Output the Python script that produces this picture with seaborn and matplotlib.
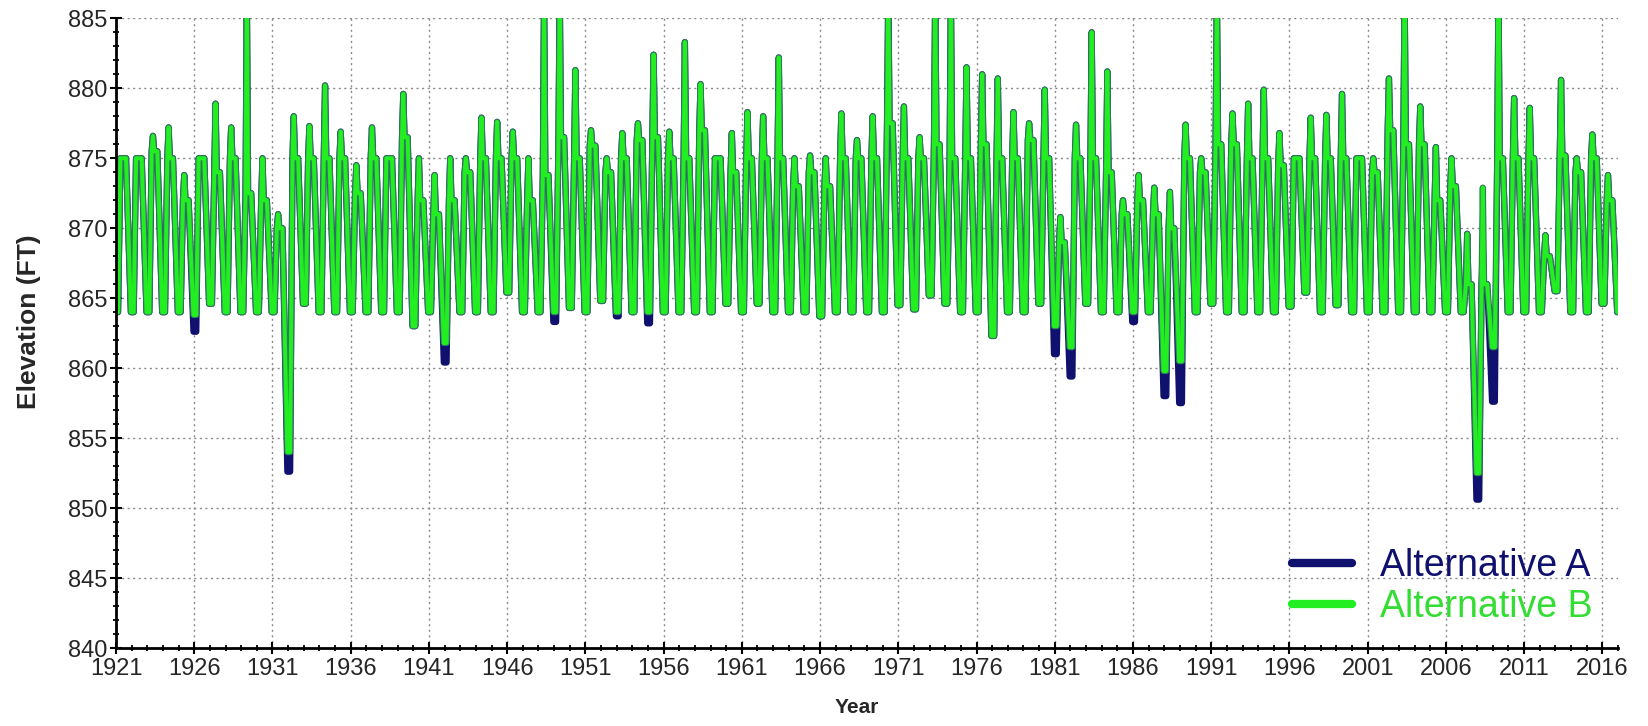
import matplotlib
matplotlib.use("Agg")
import matplotlib.pyplot as plt
import matplotlib.patheffects as pe
from matplotlib.lines import Line2D
from matplotlib.ticker import MultipleLocator
import pandas as pd
import seaborn as sns

# ---------------- data ----------------
years = list(range(1921, 2017))          # one seasonal pulse per calendar year
end_year = 2017                          # series ends on the winter floor

# winter floor reached at the start of each year (plus final floor)
low_a = [864, 864, 864, 864, 864, 862.6, 864.6, 864, 864, 864,
         864, 852.6, 864.6, 864, 864, 864, 864, 864, 864, 863.0,
         864, 860.4, 864, 864, 864, 865.4, 864, 864, 863.3, 864.3,
         864, 864.8, 863.7, 864, 863.2, 864, 864, 864, 864, 864.6,
         864, 864.6, 864, 864, 864, 863.7, 864, 864, 864, 864,
         864.5, 864.2, 865.2, 864.6, 864, 864, 862.3, 864, 864, 864.6,
         861.0, 859.4, 864.6, 864, 864, 863.3, 864, 858.0, 857.5, 864,
         864.6, 864, 864, 864, 864, 864.4, 865.4, 864, 864.5, 864,
         864, 864, 864, 864, 864, 864, 864, 850.6, 857.6, 864,
         864, 864, 865.5, 864, 864, 864.6, 864]
low_b = [864, 864, 864, 864, 864, 863.8, 864.6, 864, 864, 864,
         864, 854.0, 864.6, 864, 864, 864, 864, 864, 864, 863.0,
         864, 861.8, 864, 864, 864, 865.4, 864, 864, 864, 864.3,
         864, 864.8, 864, 864, 864, 864, 864, 864, 864, 864.6,
         864, 864.6, 864, 864, 864, 863.7, 864, 864, 864, 864,
         864.5, 864.2, 865.2, 864.6, 864, 864, 862.3, 864, 864, 864.6,
         863.0, 861.5, 864.6, 864, 864, 864, 864, 859.8, 860.5, 864,
         864.6, 864, 864, 864, 864, 864.4, 865.4, 864, 864.5, 864,
         864, 864, 864, 864, 864, 864, 864, 852.5, 861.5, 864,
         864, 864, 865.5, 864, 864, 864.6, 864]

# annual maximum (spring / flood peak)
peak_b = [875.0, 875.0, 876.6, 877.2, 873.8, 875.0, 878.9, 877.2, 887.0, 875.0,
          871.0, 878.0, 877.3, 880.2, 876.9, 874.5, 877.2, 875.0, 879.6, 875.0,
          873.8, 875.0, 875.0, 877.9, 877.6, 876.9, 875.0, 887.0, 887.0, 881.3,
          877.0, 875.0, 876.8, 877.5, 882.4, 876.9, 883.3, 880.3, 875.0, 876.8,
          878.3, 878.0, 882.2, 875.0, 875.2, 875.0, 878.2, 876.3, 878.0, 887.0,
          878.7, 876.5, 887.0, 887.0, 881.5, 881.0, 880.7, 878.3, 877.5, 879.9,
          870.8, 877.4, 884.0, 881.2, 872.0, 873.8, 872.9, 872.6, 877.4, 875.0,
          887.0, 878.2, 878.9, 879.9, 876.8, 875.0, 877.9, 878.1, 879.6, 875.0,
          875.0, 880.7, 887.0, 878.7, 875.8, 875.0, 869.6, 872.9, 887.0, 879.3,
          878.6, 869.5, 880.6, 875.0, 876.7, 873.8]
peak_a = list(peak_b)
peak_a[2008 - 1921] = 868.5

# summer pool level held after the peak
summer = [875, 875, 875.5, 875, 872, 875, 874, 875, 872.5, 872,
          870, 875, 875, 875, 875, 872.5, 875, 875, 876.5, 872,
          871, 872, 874, 875, 875, 875, 872, 873.8, 876.5, 875,
          875.9, 874, 875, 876.3, 876.5, 875, 875, 877, 875, 874,
          875, 875, 875, 873, 874, 873, 875, 875, 875, 877.5,
          875, 875, 876, 875, 875, 876, 875, 875, 876.3, 875,
          869, 875, 875, 874, 871, 872, 871, 870, 875, 874,
          876, 876, 875, 875, 874.5, 875, 875, 875, 875, 875,
          874, 877, 876, 876, 872, 873, 866, 866, 875, 875,
          875, 868, 875.2, 874, 875, 872]

x_ticks = list(range(1921, 2017, 5))
y_ticks = list(range(840, 886, 5))
series_names = ["Alternative A", "Alternative B"]

# seasonal position of each vertex within its year (style of the pulse)
phase = [-0.05, 0.13, 0.28, 0.36, 0.44, 0.64]


def build(lows, peaks):
    t, v = [], []
    for i, y in enumerate(years):
        vals = [lows[i], lows[i], summer[i], peaks[i], summer[i], summer[i]]
        for p, val in zip(phase, vals):
            t.append(y + p)
            v.append(val)
    t.append(end_year + phase[0])
    v.append(lows[-1])
    return pd.DataFrame({"Year": t, "Elevation": v})


df_a = build(low_a, peak_a)
df_b = build(low_b, peak_b)

# ---------------- styling ----------------
sns.set_theme(style="white")
plt.rcParams["font.family"] = ["Liberation Sans", "DejaVu Sans"]

navy = "#10106e"
lime = "#22ee22"
edge = "#2e7a5c"

fig = plt.figure(figsize=(16.48, 7.26), dpi=100)
ax = fig.add_axes([0.0704, 0.1074, 0.9114, 0.8674])

sns.lineplot(data=df_a, x="Year", y="Elevation", ax=ax, color=navy,
             linewidth=4.5, estimator=None, sort=False)
sns.lineplot(data=df_b, x="Year", y="Elevation", ax=ax, color=lime,
             linewidth=2.9, estimator=None, sort=False)
ax.lines[-1].set_path_effects([pe.Stroke(linewidth=4.5, foreground=edge),
                               pe.Normal()])

ax.set_xlim(1921, 2017)
ax.set_ylim(840, 885)
ax.set_xticks(x_ticks)
ax.set_yticks(y_ticks)
ax.xaxis.set_minor_locator(MultipleLocator(1))
ax.yaxis.set_minor_locator(MultipleLocator(1))
ax.tick_params(axis="both", which="major", direction="inout", length=8,
               width=1.5, color="black", labelsize=17,
               bottom=True, left=True)
ax.tick_params(axis="x", which="major", pad=3)
ax.tick_params(axis="y", which="major", pad=2)
ax.tick_params(axis="both", which="minor", direction="inout", length=5,
               width=1.3, color="black", bottom=True, left=True)

ax.grid(True, which="major", linestyle=(0, (1.5, 2.5)), color="#8a8a8a",
        linewidth=1.0)
for s in ["top", "right"]:
    ax.spines[s].set_visible(False)
for s in ["left", "bottom"]:
    ax.spines[s].set_color("black")
    ax.spines[s].set_linewidth(2.0)

ax.set_xlabel("Year", fontsize=15, fontweight="bold")
ax.set_ylabel("Elevation (FT)", fontsize=19, fontweight="bold")
ax.xaxis.set_label_coords(0.493, -0.080)
ax.yaxis.set_label_coords(-0.050, 0.519)

handles = [Line2D([0], [0], color=navy, lw=6),
           Line2D([0], [0], color=lime, lw=6)]
leg = ax.legend(handles, series_names, loc="lower right",
                bbox_to_anchor=(0.983, 0.037), frameon=False, fontsize=27,
                handlelength=1.6, handletextpad=0.75, labelspacing=0.12,
                borderpad=0, borderaxespad=0)
for txt, col in zip(leg.get_texts(), [navy, "#33dd33"]):
    txt.set_color(col)

fig.savefig("out.png", dpi=100)
